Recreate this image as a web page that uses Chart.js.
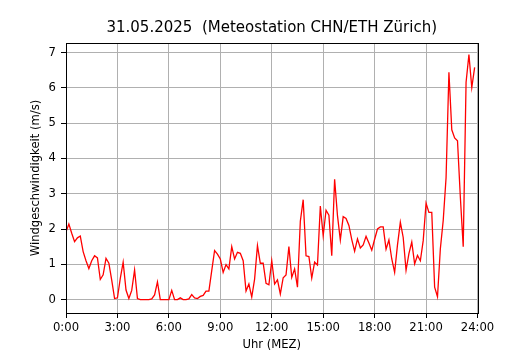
<!DOCTYPE html>
<html>
<head>
<meta charset="utf-8">
<script src="https://cdn.jsdelivr.net/npm/chart.js@4/dist/chart.umd.min.js"></script>
<style>
  html, body { margin: 0; padding: 0; background: #fff; }
  #wrap { width: 530px; height: 350px; }
</style>
</head>
<body>
<div id="wrap"><canvas id="chart"></canvas></div>
<script>
// Windgeschwindigkeit, 10-Minuten-Werte ab 0:00 (m/s)
const windSpeed = [
    1.92, 2.14, 1.88, 1.64, 1.75, 1.80, 1.36, 1.10, 0.88, 1.10,
    1.24, 1.18, 0.57, 0.70, 1.17, 1.03, 0.55, 0.03, 0.05, 0.60,
    1.06, 0.27, 0.03, 0.26, 0.84, 0.03, 0.00, 0.00, 0.00, 0.00,
    0.02, 0.13, 0.50, 0.00, 0.00, 0.00, 0.00, 0.26, 0.00, 0.00,
    0.05, 0.00, 0.00, 0.02, 0.14, 0.05, 0.03, 0.09, 0.12, 0.24,
    0.24, 0.82, 1.39, 1.29, 1.15, 0.77, 0.99, 0.87, 1.50, 1.15,
    1.34, 1.31, 1.10, 0.24, 0.44, 0.07, 0.58, 1.53, 1.03, 1.03,
    0.46, 0.42, 1.10, 0.44, 0.56, 0.16, 0.62, 0.70, 1.50, 0.63,
    0.87, 0.35, 2.22, 2.83, 1.24, 1.22, 0.61, 1.06, 0.98, 2.65,
    1.81, 2.53, 2.39, 1.24, 3.41, 2.38, 1.69, 2.35, 2.30, 2.10,
    1.70, 1.37, 1.72, 1.46, 1.55, 1.79, 1.60, 1.40, 1.71, 2.00,
    2.06, 2.06, 1.43, 1.69, 1.15, 0.77, 1.55, 2.19, 1.76, 0.83,
    1.30, 1.63, 1.01, 1.25, 1.10, 1.67, 2.73, 2.47, 2.47, 0.35,
    0.08, 1.44, 2.24, 3.45, 6.44, 4.81, 4.58, 4.50, 2.90, 1.50,
    6.16, 6.94, 6.01, 6.58
];
const stepMinutes = 10;
const xTicks = [0, 3, 6, 9, 12, 15, 18, 21, 24];
const yTicks = [0, 1, 2, 3, 4, 5, 6, 7];
const titleText = '31.05.2025  (Meteostation CHN/ETH Zürich)';
const xTitle = 'Uhr (MEZ)';
const yTitle = 'Windgeschwindigkeit (m/s)';

const points = windSpeed.map((v, i) => ({ x: i * stepMinutes / 60, y: v }));

// Rahmen um die Zeichenfläche (wie matplotlib)
const framePlugin = {
    id: 'frame',
    afterDraw: (chart) => {
        const { ctx, chartArea: a } = chart;
        ctx.save();
        ctx.strokeStyle = '#000';
        ctx.lineWidth = 1;
        ctx.strokeRect(Math.round(a.left) + 0.5, Math.round(a.top) + 0.5,
            Math.round(a.right - a.left), Math.round(a.bottom - a.top));
        ctx.restore();
    }
};

const font = { family: "'DejaVu Sans', sans-serif", size: 11.6 };

new Chart(document.getElementById('chart'), {
    type: 'line',
    plugins: [framePlugin],
    data: {
        datasets: [{
            data: points,
            borderColor: '#ff0000',
            borderWidth: 1.3,
            pointRadius: 0,
            tension: 0,
            fill: false
        }]
    },
    options: {
        responsive: true,
        maintainAspectRatio: false,
        animation: false,
        events: [],
        layout: { padding: { left: 0, right: 52.5, top: 0, bottom: 0 } },
        plugins: {
            legend: { display: false },
            tooltip: { enabled: false },
            title: {
                display: true,
                text: titleText,
                fullSize: false,
                color: '#000',
                font: { family: font.family, size: 15, weight: 'normal', lineHeight: 1.2 },
                padding: { top: 19, bottom: 6 }
            }
        },
        scales: {
            x: {
                type: 'linear',
                min: 0,
                max: 24,
                afterFit: (s) => { s.height = 37; },
                afterBuildTicks: (s) => { s.ticks = xTicks.map(v => ({ value: v })); },
                border: { display: false },
                grid: { color: '#b0b0b0', lineWidth: 1, tickColor: '#000', tickLength: 5, drawTicks: true },
                ticks: {
                    color: '#000',
                    font,
                    padding: 3,
                    maxRotation: 0,
                    callback: (v) => `${v}:00`
                },
                title: {
                    display: true,
                    text: xTitle,
                    color: '#000',
                    font: { family: font.family, size: 11.6, lineHeight: 0.8 },
                    padding: { top: 0, bottom: 0 }
                }
            },
            y: {
                min: -0.38,
                max: 7.27,
                afterFit: (s) => { s.width = 66; },
                afterBuildTicks: (s) => { s.ticks = yTicks.map(v => ({ value: v })); },
                border: { display: false },
                grid: { color: '#b0b0b0', lineWidth: 1, tickColor: '#000', tickLength: 5, drawTicks: true },
                ticks: { color: '#000', font, padding: 5 },
                title: {
                    display: true,
                    text: yTitle,
                    color: '#000',
                    font: { family: font.family, size: 11.6, lineHeight: 1.2 },
                    padding: { top: 29, bottom: 0 }
                }
            }
        }
    }
});
</script>
</body>
</html>
